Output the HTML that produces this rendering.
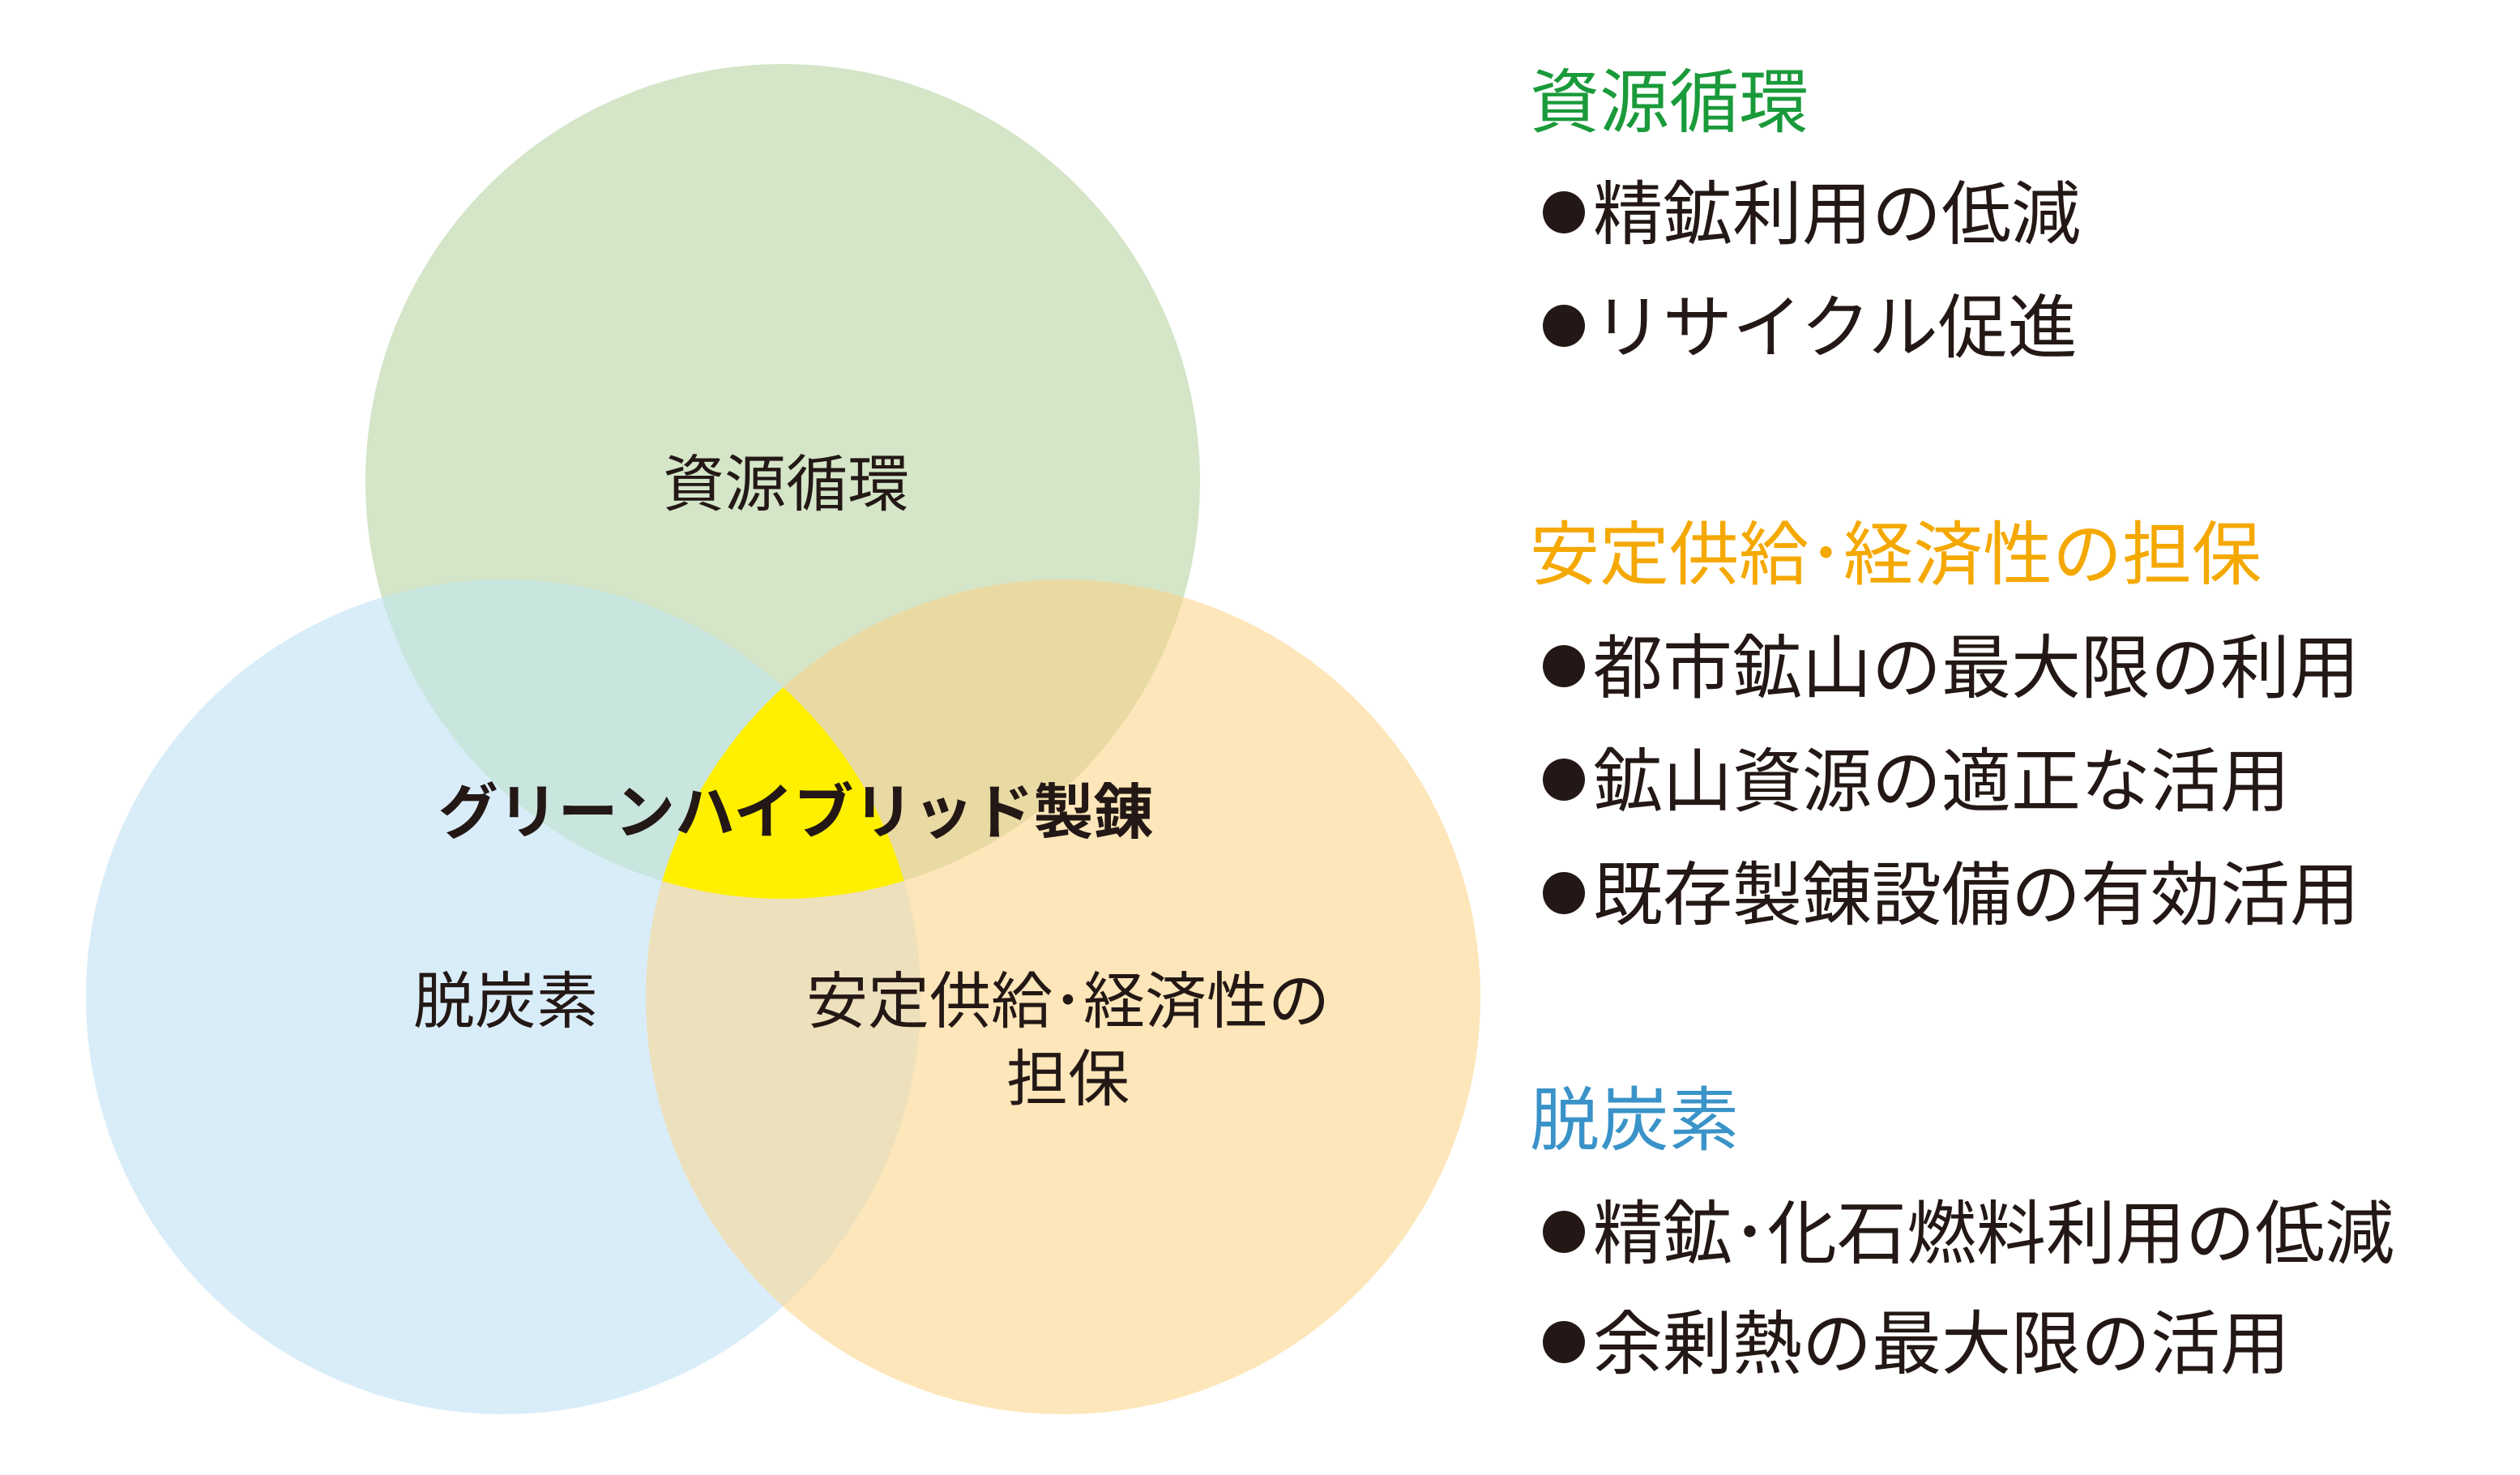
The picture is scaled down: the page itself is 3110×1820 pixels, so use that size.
<!DOCTYPE html>
<html><head><meta charset="utf-8"><style>
html,body{margin:0;padding:0;background:#fff;width:3110px;height:1820px;overflow:hidden}
svg text{font-family:"Liberation Sans","Noto Sans CJK JP",sans-serif}
</style></head><body>
<svg width="3110" height="1820" viewBox="0 0 3110 1820" xmlns="http://www.w3.org/2000/svg">
<defs>
<clipPath id="cg"><circle cx="966" cy="594" r="515"/></clipPath>
<clipPath id="cb"><circle cx="621" cy="1230" r="515"/></clipPath>
</defs>
<circle cx="966" cy="594" r="515" fill="#d4e5c8"/>
<circle cx="621" cy="1230" r="515" fill="#d9edf9"/>
<circle cx="1312" cy="1230" r="515" fill="#fde6b9"/>
<g clip-path="url(#cg)"><circle cx="621" cy="1230" r="515" fill="#c8e5de"/><circle cx="1312" cy="1230" r="515" fill="#e9daa4"/></g>
<g clip-path="url(#cb)"><circle cx="1312" cy="1230" r="515" fill="#ede0bc"/></g>
<g clip-path="url(#cg)"><g clip-path="url(#cb)"><circle cx="1312" cy="1230" r="515" fill="#fff000"/></g></g>
<g fill="#231815" font-size="76" text-anchor="middle">
<text x="970" y="624">資源循環</text>
<text x="982" y="1028" font-weight="bold" font-size="74">グリーンハイブリッド製錬</text>
<text x="624" y="1262">脱炭素</text>
<text x="1318" y="1262">安定供給･経済性の</text>
<text x="1318" y="1358">担保</text>
</g>
<g font-size="86">
<text x="1888" y="156" fill="#1a9a3a">資源循環</text>
<text x="1888" y="714" fill="#f5a800">安定供給･経済性の担保</text>
<text x="1888" y="1412" fill="#3a93c8">脱炭素</text>
</g>
<g fill="#231815">
<circle cx="1930" cy="262" r="26"/><circle cx="1930" cy="402" r="26"/>
<circle cx="1930" cy="822" r="26"/><circle cx="1930" cy="962" r="26"/><circle cx="1930" cy="1102" r="26"/>
<circle cx="1930" cy="1520" r="26"/><circle cx="1930" cy="1656" r="26"/>
</g>
<g font-size="86" fill="#231815">
<text x="1966" y="294">精鉱利用の低減</text>
<text x="1966" y="434">リサイクル促進</text>
<text x="1966" y="854">都市鉱山の最大限の利用</text>
<text x="1966" y="994">鉱山資源の適正な活用</text>
<text x="1966" y="1134">既存製錬設備の有効活用</text>
<text x="1966" y="1552">精鉱･化石燃料利用の低減</text>
<text x="1966" y="1688">余剰熱の最大限の活用</text>
</g>
</svg>
</body></html>
